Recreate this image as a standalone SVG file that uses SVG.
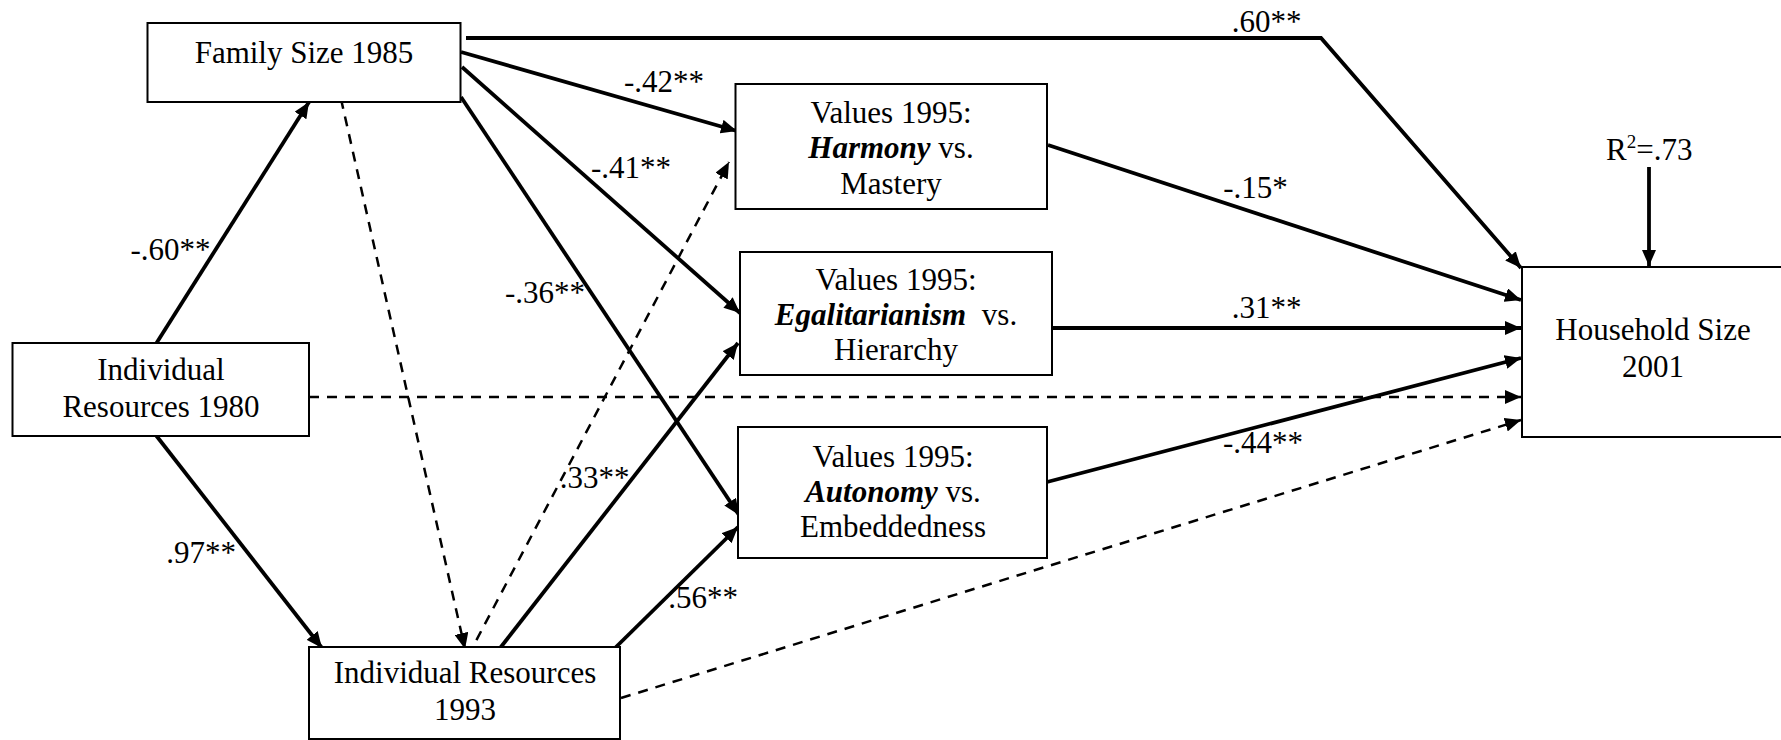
<svg xmlns="http://www.w3.org/2000/svg" width="1781" height="740" viewBox="0 0 1781 740">
<style>
.box{fill:#fff;stroke:#000;stroke-width:2}
.t{font-family:"Liberation Serif","Times New Roman",serif;font-size:31px;fill:#000;text-anchor:middle}
.ts{font-family:"Liberation Serif","Times New Roman",serif;font-size:31px;fill:#000}
.bi{font-weight:bold;font-style:italic}
.s{fill:none;stroke:#000;stroke-width:3.8;marker-end:url(#ah)}
.d{fill:none;stroke:#000;stroke-width:2.5;stroke-dasharray:10,8;marker-end:url(#ah)}
</style>
<defs>
<marker id="ah" markerUnits="userSpaceOnUse" markerWidth="17" markerHeight="14" refX="16" refY="7" orient="auto">
<path d="M0,0 L16,7 L0,14 Z" fill="#000"/>
</marker>
</defs>
<rect width="1781" height="740" fill="#fff"/>
<g id="connectors">
<line class="s" x1="154" y1="347" x2="309" y2="102"/>
<line class="s" x1="155" y1="434" x2="322" y2="648"/>
<line class="d" x1="341" y1="99" x2="465" y2="649"/>
<line class="d" x1="468" y1="656" x2="729" y2="162"/>
<line class="s" x1="497" y1="652" x2="738" y2="343"/>
<line class="s" x1="615" y1="648" x2="738" y2="527"/>
<line class="s" x1="461" y1="52" x2="737" y2="131"/>
<line class="s" x1="462" y1="67" x2="740" y2="313"/>
<line class="s" x1="461" y1="97" x2="739" y2="515"/>
<polyline class="s" points="466,38 1321,38 1521,268"/>
<line class="s" x1="1048" y1="145" x2="1521" y2="300"/>
<line class="s" x1="1052" y1="328" x2="1521" y2="328"/>
<line class="s" x1="1047" y1="482" x2="1521" y2="358"/>
<line class="d" x1="309" y1="397" x2="1521" y2="397"/>
<line class="d" x1="621" y1="698" x2="1521" y2="420"/>
<line class="s" x1="1649" y1="167" x2="1649" y2="266"/>
</g>
<g id="labels">
<text class="t" x="170.5" y="260">-.60**</text>
<text class="t" x="201" y="563">.97**</text>
<text class="t" x="664" y="92">-.42**</text>
<text class="t" x="631" y="178">-.41**</text>
<text class="t" x="545" y="303">-.36**</text>
<text class="t" x="594.5" y="488">.33**</text>
<text class="t" x="703" y="608">.56**</text>
<text class="t" x="1266.5" y="32">.60**</text>
<text class="t" x="1255.5" y="198">-.15*</text>
<text class="t" x="1266.5" y="318">.31**</text>
<text class="t" x="1263" y="453">-.44**</text>
<text class="ts" x="1606" y="160">R<tspan font-size="19" dy="-12">2</tspan><tspan dy="12">=.73</tspan></text>
</g>
<g id="family-size-1985">
<rect class="box" x="147.5" y="23" width="313" height="79"/>
<text class="t" x="304" y="63">Family Size 1985</text>
</g>
<g id="harmony">
<rect class="box" x="735.5" y="84" width="311.5" height="125"/>
<text class="t" x="891" y="123">Values 1995:</text>
<text class="t" x="891" y="158"><tspan class="bi">Harmony</tspan> vs.</text>
<text class="t" x="891" y="194">Mastery</text>
</g>
<g id="egalitarianism">
<rect class="box" x="740" y="252" width="312" height="123"/>
<text class="t" x="896" y="290">Values 1995:</text>
<text class="t" x="896" y="325"><tspan class="bi">Egalitarianism</tspan><tspan dx="8"> vs.</tspan></text>
<text class="t" x="896" y="360">Hierarchy</text>
</g>
<g id="autonomy">
<rect class="box" x="738" y="427" width="309" height="131"/>
<text class="t" x="893" y="467">Values 1995:</text>
<text class="t" x="893" y="502"><tspan class="bi">Autonomy</tspan> vs.</text>
<text class="t" x="893" y="537">Embeddedness</text>
</g>
<g id="individual-resources-1980">
<rect class="box" x="12.5" y="343" width="296.5" height="93"/>
<text class="t" x="161" y="380">Individual</text>
<text class="t" x="161" y="417">Resources 1980</text>
</g>
<g id="individual-resources-1993">
<rect class="box" x="309" y="647" width="311" height="92"/>
<text class="t" x="465" y="683">Individual Resources</text>
<text class="t" x="465" y="720">1993</text>
</g>
<g id="household-size-2001">
<rect class="box" x="1522" y="267" width="300" height="170"/>
<text class="t" x="1653" y="340">Household Size</text>
<text class="t" x="1653" y="377">2001</text>
</g>
</svg>
